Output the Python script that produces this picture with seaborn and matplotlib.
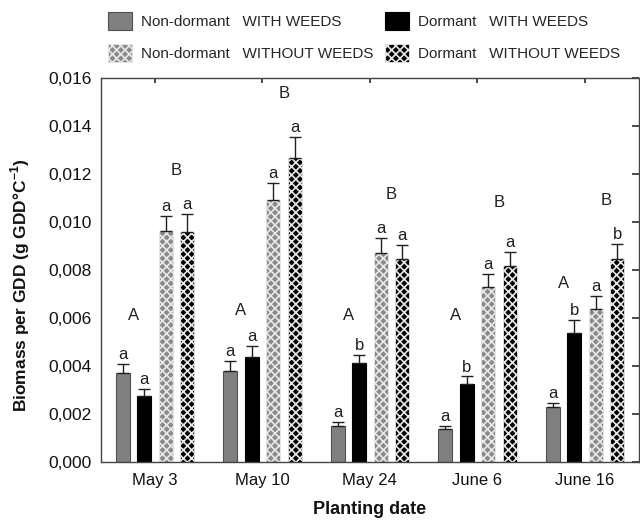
import numpy as np
import pandas as pd
import matplotlib
matplotlib.use("Agg")
import matplotlib.pyplot as plt
import seaborn as sns
from matplotlib.patches import Patch
from matplotlib.ticker import FuncFormatter

# ---------------- data ----------------
dates = ["May 3", "May 10", "May 24", "June 6", "June 16"]
series = ["Non-dormant   WITH WEEDS", "Dormant   WITH WEEDS",
          "Non-dormant   WITHOUT WEEDS", "Dormant   WITHOUT WEEDS"]

nd_with = [0.00370, 0.00380, 0.00150, 0.00138, 0.00227]
d_with = [0.00273, 0.00439, 0.00411, 0.00323, 0.00536]
nd_without = [0.00962, 0.01089, 0.00872, 0.00728, 0.00639]
d_without = [0.00958, 0.01267, 0.00844, 0.00815, 0.00844]

nd_with_err = [0.00040, 0.00042, 0.00018, 0.00012, 0.00020]
d_with_err = [0.00030, 0.00043, 0.00035, 0.00033, 0.00056]
nd_without_err = [0.00064, 0.00072, 0.00060, 0.00054, 0.00053]
d_without_err = [0.00074, 0.00088, 0.00060, 0.00060, 0.00064]

nd_with_letters = ["a", "a", "a", "a", "a"]
d_with_letters = ["a", "a", "b", "b", "b"]
nd_without_letters = ["a", "a", "a", "a", "a"]
d_without_letters = ["a", "a", "a", "a", "b"]

with_group_letter = ["A", "A", "A", "A", "A"]
without_group_letter = ["B", "B", "B", "B", "B"]

yticks = [0.000, 0.002, 0.004, 0.006, 0.008, 0.010, 0.012, 0.014, 0.016]

# ---------------- build table ----------------
vals = [nd_with, d_with, nd_without, d_without]
errs = [nd_with_err, d_with_err, nd_without_err, d_without_err]
lets = [nd_with_letters, d_with_letters, nd_without_letters, d_without_letters]
rows = []
for s, v, e in zip(series, vals, errs):
    for d, vv, ee in zip(dates, v, e):
        rows.append({"date": d, "series": s, "value": vv, "err": ee})
df = pd.DataFrame(rows)

sns.set_theme(style="white")
plt.rcParams["font.family"] = ["Liberation Sans", "DejaVu Sans"]
plt.rcParams["mathtext.fontset"] = "custom"
plt.rcParams["mathtext.rm"] = "Liberation Sans"
plt.rcParams["mathtext.bf"] = "Liberation Sans:bold"
plt.rcParams["hatch.linewidth"] = 1.2

fig = plt.figure(figsize=(6.4, 5.22), dpi=100)
ax = fig.add_axes([0.158, 0.115, 0.840, 0.736])

styles = [
    dict(facecolor="#808080", edgecolor="#505050", hatch=None, lw=0.8),
    dict(facecolor="#000000", edgecolor="#000000", hatch=None, lw=0.8),
    dict(facecolor="#8a8a8a", edgecolor="#e8e8e8", hatch="xxxx", lw=0.6),
    dict(facecolor="#000000", edgecolor="#e8e8e8", hatch="xxxx", lw=0.6),
]

sns.barplot(data=df, x="date", y="value", hue="series", order=dates,
            hue_order=series, errorbar=None, width=0.8, gap=0.35,
            palette=[s["facecolor"] for s in styles], saturation=1,
            legend=False, ax=ax)

bar_conts = list(ax.containers)
centers = []
for ci, cont in enumerate(bar_conts):
    st = styles[ci]
    xs, tops = [], []
    for bar in cont:
        bar.set_facecolor(st["facecolor"])
        bar.set_edgecolor(st["edgecolor"])
        bar.set_linewidth(st["lw"])
        if st["hatch"]:
            bar.set_hatch(st["hatch"])
        xs.append(bar.get_x() + bar.get_width() / 2)
        tops.append(bar.get_height())
    centers.append(xs)
    ax.errorbar(xs, tops, yerr=[np.zeros(len(errs[ci])), errs[ci]], fmt="none",
                ecolor="#202020", elinewidth=1.0, capsize=4, capthick=1.0, zorder=5)
    for x, t, e, l in zip(xs, tops, errs[ci], lets[ci]):
        ax.text(x, t + e + 0.00008, l, ha="center", va="bottom", fontsize=12, color="#202020")

# group letters
with_x = [(a + b) / 2 for a, b in zip(centers[0], centers[1])]
wo_x = [(a + b) / 2 for a, b in zip(centers[2], centers[3])]
for i in range(len(dates)):
    top_w = max(nd_with[i] + nd_with_err[i], d_with[i] + d_with_err[i])
    top_wo = max(nd_without[i] + nd_without_err[i], d_without[i] + d_without_err[i])
    ax.text(with_x[i], max(top_w + 0.0015, 0.0061), with_group_letter[i],
            ha="center", va="center", fontsize=12, color="#202020")
    ax.text(wo_x[i], max(top_wo + 0.0018, 0.0108), without_group_letter[i],
            ha="center", va="center", fontsize=12, color="#202020")

ax.set_xlim(-0.5, 4.5)
ax.set_ylim(0, 0.016)
ax.set_yticks(yticks)
ax.yaxis.set_major_formatter(FuncFormatter(lambda v, p: f"{v:.3f}".replace(".", ",")))
ax.tick_params(axis="both", direction="in", top=True, right=True,
               colors="#333333", labelcolor="#111111")
ax.tick_params(axis="y", length=5, pad=6.5, labelsize=12.5)
ax.tick_params(axis="x", length=3.5, pad=8, labelsize=12)
for sp in ax.spines.values():
    sp.set_color("#444444")
    sp.set_linewidth(1.0)

ax.set_xlabel("Planting date", fontsize=13, fontweight="bold", labelpad=9, color="#111111")
ax.set_ylabel(r"Biomass per GDD (g GDD°C$^{\mathbf{-1}}$)", fontsize=12.5,
              fontweight="bold", color="#111111")
ax.yaxis.set_label_coords(-0.128, 0.46)

handles = [Patch(facecolor=s["facecolor"], edgecolor=s["edgecolor"], hatch=s["hatch"],
                 linewidth=s["lw"]) for s in styles]
order = [0, 2, 1, 3]
fig.legend([handles[i] for i in order], [series[i] for i in order], ncol=2,
           loc="upper left", bbox_to_anchor=(108 / 640, 1 - 12 / 522), frameon=False,
           fontsize=11, handlelength=1.57, handleheight=1.44, handletextpad=0.59,
           columnspacing=0.75, labelspacing=0.92, borderaxespad=0, borderpad=0)

fig.savefig("out.png", dpi=100)
